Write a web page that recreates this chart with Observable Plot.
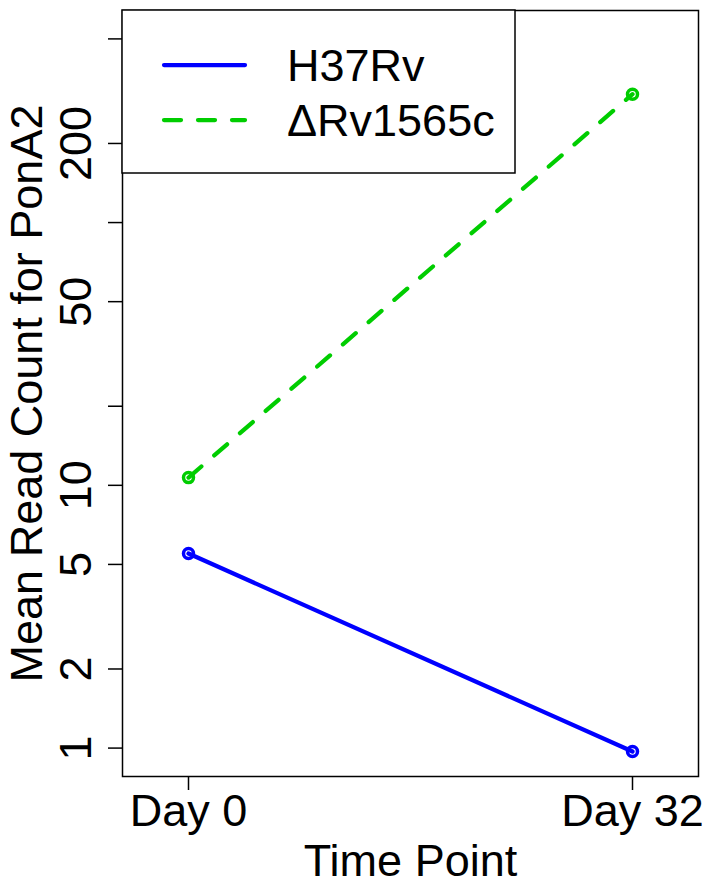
<!DOCTYPE html>
<html>
<head>
<meta charset="utf-8">
<script src="https://cdn.jsdelivr.net/npm/d3@7"></script>
<script src="https://cdn.jsdelivr.net/npm/@observablehq/plot@0.6"></script>
<style>
  html, body { margin: 0; padding: 0; background: #fff; }
  svg { display: block; }
</style>
</head>
<body>
<div id="chart"></div>
<script>
// ---- data ----
const timepoints = ["Day 0", "Day 32"];
const seriesNames = ["H37Rv", "\u0394Rv1565c"];
const h37rvValues = [5.5, 0.97];
const drv1565cValues = [10.7, 308];
const yTicks = [1, 2, 5, 10, 20, 50, 100, 200, 500];
const yTickLabels = [1, 2, 5, 10, 50, 200];
const seriesColors = ["#0000FF", "#00CD00"];
const xTitle = "Time Point";
const yTitle = "Mean Read Count for PonA2";

const h37rv = timepoints.map((t, i) => ({ time: t, value: h37rvValues[i], series: seriesNames[0] }));
const drv = timepoints.map((t, i) => ({ time: t, value: drv1565cValues[i], series: seriesNames[1] }));

const FONT = "'Liberation Sans', Arial, Helvetica, sans-serif";
const FS = 45;
const LW = 4.25;

const chart = Plot.plot({
  width: 709,
  height: 886,
  marginLeft: 122,
  marginRight: 11,
  marginTop: 10,
  marginBottom: 110,
  x: { type: "point", domain: timepoints, padding: 0.148, axis: null },
  y: { type: "log", domain: [0.7796, 641.3], axis: null },
  style: { fontFamily: FONT, fontSize: FS + "px", background: "white", color: "black" },
  marks: [
    Plot.frame({ stroke: "black", strokeWidth: 1.5 }),
    Plot.axisY(yTicks, { tickSize: 14, tickFormat: () => "", label: null, strokeWidth: 1.5 }),
    Plot.text(yTickLabels, {
      y: d => d, text: d => String(d), frameAnchor: "left", dx: -32,
      rotate: -90, textAnchor: "middle", lineAnchor: "bottom", fontSize: FS, fill: "black"
    }),
    Plot.axisX(timepoints, { tickSize: 14, tickFormat: () => "", label: null, strokeWidth: 1.5 }),
    Plot.text(timepoints, {
      x: d => d, text: d => d, frameAnchor: "bottom", dy: 49.5,
      textAnchor: "middle", lineAnchor: "bottom", fontSize: FS, fill: "black"
    }),
    Plot.text([xTitle], {
      text: d => d, frameAnchor: "bottom", dy: 99.5,
      textAnchor: "middle", lineAnchor: "bottom", fontSize: FS, fill: "black"
    }),
    Plot.text([yTitle], {
      text: d => d, frameAnchor: "left", dx: -81, rotate: -90,
      textAnchor: "middle", lineAnchor: "bottom", fontSize: FS, fill: "black"
    }),
    Plot.line(h37rv, { x: "time", y: "value", stroke: seriesColors[0], strokeWidth: LW, strokeLinecap: "round" }),
    Plot.line(drv, { x: "time", y: "value", stroke: seriesColors[1], strokeWidth: LW, strokeDasharray: "17,17", strokeLinecap: "round" }),
    Plot.dot(h37rv, { x: "time", y: "value", r: 5, stroke: seriesColors[0], strokeWidth: 3.5, fill: "none" }),
    Plot.dot(drv, { x: "time", y: "value", r: 5, stroke: seriesColors[1], strokeWidth: 3.5, fill: "none" })
  ]
});

// ---- legend (top-left, inside frame) ----
const svg = d3.select(chart);
const lg = svg.append("g").attr("font-family", FONT).attr("font-size", FS).attr("text-anchor", "start");
lg.append("rect").attr("x", 122).attr("y", 10).attr("width", 393).attr("height", 163)
  .attr("fill", "white").attr("stroke", "black").attr("stroke-width", 1.5);
const legendRows = [
  { name: seriesNames[0], color: seriesColors[0], dash: null, y: 65 },
  { name: seriesNames[1], color: seriesColors[1], dash: "17,17", y: 120 }
];
legendRows.forEach(r => {
  const ln = lg.append("line").attr("x1", 164).attr("x2", 245).attr("y1", r.y).attr("y2", r.y)
    .attr("stroke", r.color).attr("stroke-width", LW).attr("stroke-linecap", "round");
  if (r.dash) ln.attr("stroke-dasharray", r.dash);
  lg.append("text").attr("x", 287).attr("y", r.y).attr("dy", "0.36em")
    .attr("text-anchor", "start").attr("fill", "black").text(r.name);
});

document.getElementById("chart").appendChild(chart);
</script>
</body>
</html>
